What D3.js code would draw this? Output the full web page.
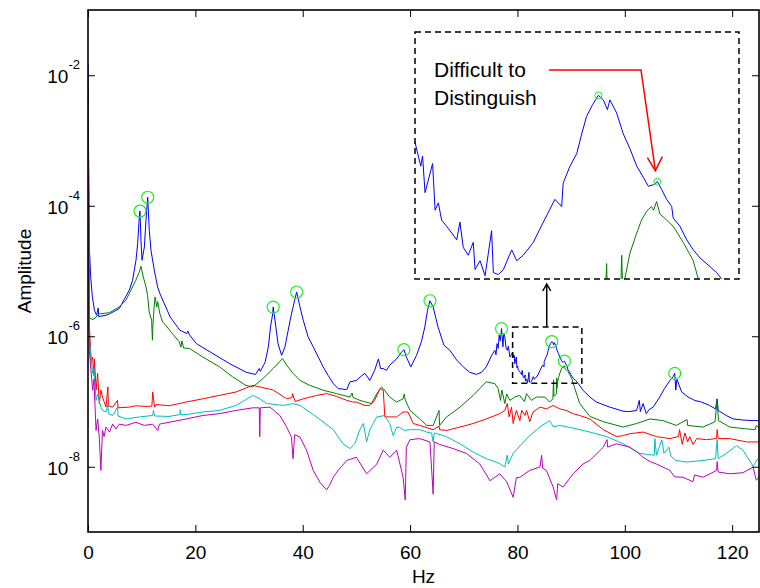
<!DOCTYPE html>
<html><head><meta charset="utf-8">
<script src="https://cdn.jsdelivr.net/npm/d3@7"></script>
<style>body{margin:0;background:#fff}svg{display:block}text{font-family:"Liberation Sans",Arial,sans-serif}</style>
</head><body><svg id="c" width="760" height="588"></svg>
<script>
const freqTicks=[0,20,40,60,80,100,120];
const ampTicks=[1e-8,1e-6,1e-4,1e-2];
const ampTickExp=["-8","-6","-4","-2"];
const blue=[[0,1.5e-2],[0.15,2e-4],[0.25,2.3e-5],[0.5,8.3e-6],[0.8,4.1e-6],[1.2,2.5e-6],[1.6,2.1e-6],[1.9,2.7e-6],[2.0,2.0e-6],[3.35,2.1e-6],[4.0,2.2e-6],[5.83,2.66e-6],[7.7,5.1e-6],[8.3,7.2e-6],[8.94,1.46e-5],[9.25,2.64e-5],[9.56,6.75e-5],[9.68,8.3e-5],[9.87,2.97e-5],[10.06,1.46e-5],[10.5,2.33e-5],[10.8,6.0e-5],[11.12,1.35e-4],[11.42,4.2e-5],[11.73,2.08e-5],[12.35,1.03e-5],[12.97,5.7e-6],[13.4,4.5e-6],[15.3,1.98e-6],[17.1,1.24e-6],[18.4,1.1e-6],[18.6,1.2e-6],[18.9,1.05e-6],[20.2,7.7e-7],[23.3,5.4e-7],[26.4,3.8e-7],[29.5,2.8e-7],[31.2,2.6e-7],[31.9,3.2e-7],[32.1,2.9e-7],[33.0,4.0e-7],[33.6,6.9e-7],[34.0,1.39e-6],[34.4,2.2e-6],[34.5,2.8e-6],[35.0,1.39e-6],[35.4,7.7e-7],[36.07,5.1e-7],[36.7,6.9e-7],[37.3,1.24e-6],[37.9,2.2e-6],[38.5,3.56e-6],[38.86,4.77e-6],[39.5,2.8e-6],[40.1,1.76e-6],[41.0,9.8e-7],[41.95,6.9e-7],[42.9,4.8e-7],[43.8,3.4e-7],[44.75,2.5e-7],[45.7,1.88e-7],[46.6,1.58e-7],[48.2,1.52e-7],[48.8,2.0e-7],[50.0,2.1e-7],[51.0,2.5e-7],[51.6,2.7e-7],[52.5,2.1e-7],[53.4,3.0e-7],[54.1,4.5e-7],[54.5,3.2e-7],[55.0,3.2e-7],[55.6,3.0e-7],[56.2,3.6e-7],[57.5,4.5e-7],[58.4,5.7e-7],[58.85,6.25e-7],[59.3,4.8e-7],[60.15,3.4e-7],[61.2,5.1e-7],[62.1,8.2e-7],[62.75,1.39e-6],[63.25,2.5e-6],[63.7,3.5e-6],[64.3,2.8e-6],[65.2,1.39e-6],[66.3,7.3e-7],[67.4,6.1e-7],[68.7,4.3e-7],[69.9,3.4e-7],[71.1,2.8e-7],[72.4,2.6e-7],[73.3,2.8e-7],[74.2,3.4e-7],[75.2,5.1e-7],[75.8,6.1e-7],[76.0,5.2e-7],[76.2,7.7e-7],[76.4,6.5e-7],[76.6,1.04e-6],[76.8,8.5e-7],[77.04,1.31e-6],[77.3,6.9e-7],[77.45,1.1e-6],[77.65,9.8e-7],[77.9,6.5e-7],[78.1,6.1e-7],[78.3,7.0e-7],[78.6,4.8e-7],[79.1,5.7e-7],[79.23,5.1e-7],[79.33,4.7e-7],[79.4,5.1e-7],[79.5,3.8e-7],[79.63,4.2e-7],[79.8,4.8e-7],[79.9,3.3e-7],[80.03,3.5e-7],[80.16,3.05e-7],[80.36,2.9e-7],[80.56,2.75e-7],[80.76,2.6e-7],[80.89,3.0e-7],[81.02,2.45e-7],[81.22,2.3e-7],[81.42,2.55e-7],[81.49,2.05e-7],[81.69,2.2e-7],[81.89,1.95e-7],[82.15,2.8e-7],[82.22,2.0e-7],[82.42,1.97e-7],[82.62,2.05e-7],[82.95,2.4e-7],[83.15,2.2e-7],[83.41,2.3e-7],[83.81,2.55e-7],[84.21,3.0e-7],[84.67,3.6e-7],[84.94,3.4e-7],[85.0,4.1e-7],[85.27,4.7e-7],[85.54,5.2e-7],[85.74,6.1e-7],[85.93,7.0e-7],[86.17,7.7e-7],[86.4,8.3e-7],[86.6,8.0e-7],[86.76,7.4e-7],[86.86,8.0e-7],[87.13,7.2e-7],[87.39,6.1e-7],[87.66,5.4e-7],[87.93,4.7e-7],[88.19,4.3e-7],[88.39,4.0e-7],[88.59,4.05e-7],[88.75,4.15e-7],[88.92,3.9e-7],[89.12,3.6e-7],[89.32,3.4e-7],[89.38,3.1e-7],[89.65,2.9e-7],[89.92,2.6e-7],[90.18,2.4e-7],[90.45,2.25e-7],[90.84,2.1e-7],[91.11,2.0e-7],[91.31,1.9e-7],[92.2,1.49e-7],[93.5,1.17e-7],[94.7,9.8e-8],[97.2,8.2e-8],[99.7,7.1e-8],[100.9,7.0e-8],[102.2,7.3e-8],[102.7,1.04e-7],[102.9,7.0e-8],[103.4,9.3e-8],[104.0,6.5e-8],[104.5,7.5e-8],[105.3,8.2e-8],[106.5,1.17e-7],[107.4,1.58e-7],[108.4,2.1e-7],[109.0,2.4e-7],[109.3,2.7e-7],[109.5,1.5e-7],[109.7,2.2e-7],[110.6,1.4e-7],[111.8,1.17e-7],[113.0,1.04e-7],[114.3,9.8e-8],[115.8,8.7e-8],[116.9,7.7e-8],[117.2,1.1e-7],[117.4,7.3e-8],[118.9,6.1e-8],[120.2,5.4e-8],[122.0,5.2e-8],[123.9,5.1e-8],[125,5.1e-8]];
const green=[[0,7e-3],[0.12,3e-4],[0.25,1.9e-6],[1.0,1.8e-6],[2.1,2.2e-6],[4.0,2.3e-6],[5.8,2.8e-6],[7.1,3.6e-6],[8.0,5.1e-6],[8.9,7.2e-6],[9.56,9.7e-6],[9.87,1.18e-5],[10.3,8.1e-6],[10.8,5.7e-6],[11.1,4.25e-6],[11.4,2.36e-6],[11.85,1.76e-6],[12.0,8.7e-7],[12.1,1.5e-6],[12.35,3.0e-6],[12.5,4.0e-6],[12.8,2.8e-6],[12.97,3.4e-6],[13.4,2.2e-6],[13.9,1.66e-6],[14.5,1.47e-6],[15.5,1.15e-6],[17.0,8.2e-7],[17.3,6.8e-7],[17.5,8.5e-7],[17.8,6.6e-7],[18.9,6.5e-7],[21.4,4.8e-7],[24.5,3.4e-7],[26.9,2.4e-7],[29.4,1.77e-7],[30.7,1.67e-7],[32.6,2.25e-7],[34.5,3.2e-7],[36.25,4.55e-7],[37.0,3.6e-7],[38.2,2.7e-7],[39.5,2.1e-7],[41.3,1.77e-7],[43.8,1.49e-7],[46.3,1.32e-7],[48.8,1.17e-7],[49.2,1.35e-7],[49.4,1.15e-7],[50.65,1.04e-7],[52.8,9.3e-8],[53.8,1.32e-7],[54.7,1.67e-7],[55.0,1.58e-7],[56.2,1.17e-7],[57.5,9.8e-8],[58.7,1.1e-7],[58.9,1.3e-7],[59.1,1.05e-7],[60.0,7.3e-8],[61.8,5.4e-8],[63.1,4.3e-8],[64.3,4.3e-8],[65.4,7.3e-8],[65.5,4.3e-8],[66.8,5.8e-8],[69.3,8.2e-8],[71.75,1.24e-7],[74.2,2.0e-7],[75.8,1.88e-7],[76.4,1.58e-7],[76.85,1.04e-7],[77.1,1.5e-7],[77.65,9.3e-8],[78.0,1.3e-7],[78.6,1.04e-7],[79.5,1.17e-7],[80.4,1.24e-7],[81.3,1.0e-7],[81.7,1.32e-7],[82.6,1.04e-7],[83.55,1.17e-7],[85.1,1.17e-7],[86.0,9.8e-8],[86.6,1.1e-7],[86.73,2.15e-7],[86.8,1.2e-7],[87.25,1.3e-7],[87.33,2.3e-7],[87.38,1.6e-7],[87.45,1.9e-7],[87.66,2.34e-7],[87.93,2.75e-7],[88.12,3.05e-7],[88.32,3.27e-7],[88.52,3.4e-7],[88.6,3.3e-7],[88.72,3.54e-7],[88.85,3.2e-7],[89.12,3.05e-7],[89.38,2.9e-7],[89.78,2.55e-7],[90.18,2.2e-7],[90.38,1.9e-7],[91.6,9.3e-8],[93.5,5.9e-8],[96.0,4.9e-8],[99.7,4.06e-8],[102.2,4.6e-8],[104.7,5.4e-8],[107.1,5.1e-8],[109.6,4.3e-8],[111.6,5.3e-8],[111.7,4.3e-8],[114.6,4.06e-8],[116.8,4.9e-8],[117.2,1.04e-7],[117.45,5.1e-8],[119.55,4.06e-8],[122.7,3.8e-8],[124.3,3.7e-8],[124.5,4.3e-8],[125,3.9e-8]];
const red=[[0,5.5e-3],[0.12,2e-4],[0.24,1.57e-6],[0.6,4e-7],[0.87,4.8e-7],[1.1,2.5e-7],[1.2,4.5e-7],[1.5,1.5e-7],[1.8,2.7e-7],[2.1,9.3e-8],[2.4,1.5e-7],[2.7,1.17e-7],[3.35,8.2e-8],[3.7,1.67e-7],[3.8,8.5e-8],[4.6,8.2e-8],[5.5,1.04e-7],[5.6,8.0e-8],[7.7,8.2e-8],[8.9,8.6e-8],[10.8,8.4e-8],[11.9,8.5e-8],[12.05,1.4e-7],[12.4,8.2e-8],[12.7,9.0e-8],[15.1,8.6e-8],[18.25,9.8e-8],[21.4,1.1e-7],[24.45,1.24e-7],[27.6,1.4e-7],[30.7,1.77e-7],[32.0,1.67e-7],[34.5,1.5e-7],[37.0,1.1e-7],[38.0,1.15e-7],[38.1,1.32e-7],[38.6,1.0e-7],[40.1,1.1e-7],[42.6,1.24e-7],[44.45,1.32e-7],[46.3,1.2e-7],[48.2,1.04e-7],[49.4,9.8e-8],[50.0,9.8e-8],[51.6,8.7e-8],[52.5,8.7e-8],[53.4,1.04e-7],[54.4,1.58e-7],[55.0,1.5e-7],[55.3,5.8e-8],[57.5,5.8e-8],[58.7,6.9e-8],[59.6,6.9e-8],[60.6,4.6e-8],[61.8,4.3e-8],[64.3,3.7e-8],[65.4,4.2e-8],[65.5,3.7e-8],[66.8,3.6e-8],[69.3,4.06e-8],[71.75,4.6e-8],[74.2,5.4e-8],[76.7,6.5e-8],[77.65,7.3e-8],[78.1,9.3e-8],[78.45,5.8e-8],[78.9,8.2e-8],[79.2,4.6e-8],[79.8,7.3e-8],[80.45,5.1e-8],[80.8,7.3e-8],[81.4,6.1e-8],[81.7,7.3e-8],[82.3,4.9e-8],[82.9,6.9e-8],[84.2,8.2e-8],[85.4,7.7e-8],[86.65,8.7e-8],[87.9,7.7e-8],[89.1,7.3e-8],[90.4,6.5e-8],[91.6,6.1e-8],[93.5,5.4e-8],[96.0,3.7e-8],[98.45,2.9e-8],[99.7,3.0e-8],[100.9,3.2e-8],[103.4,3.4e-8],[105.9,2.9e-8],[108.4,2.7e-8],[110.0,2.9e-8],[110.2,3.7e-8],[110.7,2.2e-8],[111.2,3.3e-8],[111.7,2.4e-8],[112.1,2.9e-8],[112.7,2.2e-8],[113.4,2.7e-8],[115.2,2.6e-8],[117.1,2.7e-8],[117.2,3.7e-8],[117.4,2.7e-8],[119.55,2.7e-8],[122.7,2.4e-8],[125,2.4e-8]];
const cyan=[[0,3.5e-3],[0.12,1e-4],[0.24,8.7e-7],[0.87,2.7e-7],[1.1,3.2e-7],[1.5,1.04e-7],[1.8,1.3e-7],[2.4,8.2e-8],[2.7,7.3e-8],[3.35,6.9e-8],[3.7,9.0e-8],[3.8,6.5e-8],[4.6,6.1e-8],[5.5,8.2e-8],[5.6,6.0e-8],[7.1,5.4e-8],[9.56,5.8e-8],[12.05,6.1e-8],[12.2,7.3e-8],[12.4,6.0e-8],[15.1,5.9e-8],[17.1,6.3e-8],[17.2,7.5e-8],[17.3,6.3e-8],[18.25,6.3e-8],[21.4,6.9e-8],[24.45,7.3e-8],[27.6,8.7e-8],[30.7,1.24e-7],[32.0,1.1e-7],[33.3,9.3e-8],[36.4,8.7e-8],[38.2,9.3e-8],[39.5,8.7e-8],[42.6,5.8e-8],[45.7,3.7e-8],[47.5,2.25e-8],[48.8,1.9e-8],[49.7,2.25e-8],[50.65,3.7e-8],[51.3,4.6e-8],[51.9,2.4e-8],[52.5,3.7e-8],[53.8,5.8e-8],[55.3,6.1e-8],[56.2,4.6e-8],[56.85,3.0e-8],[57.5,4.06e-8],[58.1,4.0e-8],[58.9,3.6e-8],[60.0,3.7e-8],[61.8,3.7e-8],[63.1,3.4e-8],[64.0,3.3e-8],[64.3,2.4e-8],[64.5,3.3e-8],[66.8,2.9e-8],[69.3,2.25e-8],[71.75,1.68e-8],[74.2,1.33e-8],[76.7,1.12e-8],[77.65,9.9e-9],[78.1,1.5e-8],[78.3,1.1e-8],[79.2,1.6e-8],[81.7,2.7e-8],[84.2,4.1e-8],[86.0,5.1e-8],[86.65,4.1e-8],[87.9,4.3e-8],[90.4,3.9e-8],[93.5,3.4e-8],[96.6,2.9e-8],[99.7,2.25e-8],[102.8,1.6e-8],[105.5,1.5e-8],[105.6,2.7e-8],[105.9,1.5e-8],[106.9,2.6e-8],[107.3,1.6e-8],[108.2,2.0e-8],[108.6,1.45e-8],[109.5,1.25e-8],[111.5,1.18e-8],[114.6,1.25e-8],[116.9,1.33e-8],[117.2,2.6e-8],[117.4,1.33e-8],[118.9,1.6e-8],[120.8,2.1e-8],[122.0,1.8e-8],[123.9,1.02e-8],[124.8,1.33e-8]];
const magenta=[[0,2.2e-3],[0.12,1e-4],[0.24,6.1e-7],[0.87,1.49e-7],[1.1,2.2e-7],[1.5,3.6e-8],[1.8,5.4e-8],[2.1,2.85e-8],[2.4,8.8e-9],[2.7,3.6e-8],[3.0,2.9e-8],[3.35,4.06e-8],[4.0,3.4e-8],[4.6,4.5e-8],[5.2,3.8e-8],[5.8,4.5e-8],[7.1,4.3e-8],[8.9,4.8e-8],[10.5,4.3e-8],[12.05,4.5e-8],[13.0,3.6e-8],[13.3,4.5e-8],[15.1,4.8e-8],[18.25,5.4e-8],[21.4,6.1e-8],[24.45,6.5e-8],[27.6,7.3e-8],[30.7,8.0e-8],[31.9,8.0e-8],[32.0,2.9e-8],[32.1,8.0e-8],[33.9,8.2e-8],[35.75,6.1e-8],[37.0,4.06e-8],[37.9,2.85e-8],[38.2,1.33e-8],[38.5,3.1e-8],[39.5,2.85e-8],[40.7,1.8e-8],[41.95,8.8e-9],[43.2,5.8e-9],[44.45,4.4e-9],[45.0,5.2e-9],[45.7,6.9e-9],[46.6,8.8e-9],[48.2,1.25e-8],[50.0,1.4e-8],[51.9,7.8e-9],[53.8,1.1e-8],[55.0,1.8e-8],[56.2,1.4e-8],[57.5,1.8e-8],[58.7,6.9e-9],[59.1,3.1e-9],[59.3,2.0e-8],[60.0,2.6e-8],[61.8,2.7e-8],[63.7,2.4e-8],[64.3,3.8e-9],[64.5,2.4e-8],[65.5,2.2e-8],[68.0,1.9e-8],[70.5,1.6e-8],[73.0,1.1e-8],[74.9,6.1e-9],[76.7,7.8e-9],[78.0,5.9e-9],[79.2,3.4e-9],[79.8,6.8e-9],[80.45,6.9e-9],[82.3,8.8e-9],[84.2,9.9e-9],[84.5,1.5e-8],[84.7,9.5e-9],[85.4,8.8e-9],[86.65,4.9e-9],[87.3,3.1e-9],[87.5,5.5e-9],[88.5,4.9e-9],[90.4,7.8e-9],[92.2,1.1e-8],[93.5,1.25e-8],[96.0,2.0e-8],[96.7,2.6e-8],[96.8,2.0e-8],[98.45,2.25e-8],[100.9,2.0e-8],[102.2,1.7e-8],[103.4,1.4e-8],[104.7,1.2e-8],[105.9,1.1e-8],[108.4,8.8e-9],[109.3,7.0e-9],[110.85,6.9e-9],[112.7,5.9e-9],[113.0,7.5e-9],[114.6,6.9e-9],[117.1,8.8e-9],[117.2,1.2e-8],[117.4,8.3e-9],[119.55,7.8e-9],[122.0,8.1e-9],[123.9,9.9e-9],[124.5,6.2e-9],[125,7e-9]];
const peaks=[[9.68,8.3e-5],[11.12,1.35e-4],[34.5,2.8e-6],[38.86,4.77e-6],[58.85,6.25e-7],[63.7,3.5e-6],[77.04,1.31e-6],[86.4,8.3e-7],[88.75,4.15e-7],[109.3,2.7e-7]];
const insetPeaks=[[86.4,8.3e-7],[88.75,4.15e-7]];
const zoomFreq=[79.1,92];
const zoomAmp=[1.9e-7,1.38e-6];
const seriesList=[{d:blue,c:"#0000ff"},{d:green,c:"#008000"},{d:red,c:"#ff0000"},{d:cyan,c:"#00bfbf"},{d:magenta,c:"#bf00bf"}];

const svg=d3.select("#c");
const L=88,R=759,T=10,B=532;
const x=d3.scaleLinear().domain([0,125]).range([L,R]);
const y=d3.scaleLog().domain([1e-9,1e-1]).range([B,T]);
const defs=svg.append("defs");
defs.append("clipPath").attr("id","cm").append("rect").attr("x",L).attr("y",T).attr("width",R-L).attr("height",B-T);
const IL=415,IR=739,IT=32,IB=279;
defs.append("clipPath").attr("id","ci").append("rect").attr("x",IL).attr("y",IT).attr("width",IR-IL).attr("height",IB-IT);

const line=d3.line().x(d=>x(d[0])).y(d=>y(d[1]));
const gm=svg.append("g").attr("clip-path","url(#cm)");
seriesList.forEach(s=>gm.append("path").attr("d",line(s.d)).attr("fill","none").attr("stroke",s.c).attr("stroke-width",1));
gm.selectAll("circle.pk").data(peaks).enter().append("circle").attr("cx",d=>x(d[0])).attr("cy",d=>y(d[1])).attr("r",6).attr("fill","none").attr("stroke","#22ee22").attr("stroke-width",1.2);

// frame
const axg=svg.append("g");
axg.append("rect").attr("x",L).attr("y",T).attr("width",R-L).attr("height",B-T).attr("fill","none").attr("stroke","#000").attr("stroke-width",1.6);
axg.append("g").attr("transform",`translate(0,${B})`).call(d3.axisBottom(x).tickValues(freqTicks).tickSizeInner(-7).tickSizeOuter(0).tickPadding(14)).call(g=>{g.select(".domain").remove();g.selectAll("text").attr("font-size",19).attr("fill","#000").attr("font-family","Liberation Sans, Arial, sans-serif");g.selectAll("line").attr("stroke","#000");});
axg.append("g").attr("transform",`translate(0,${T})`).call(d3.axisTop(x).tickValues(freqTicks).tickSizeInner(-7).tickSizeOuter(0).tickFormat("")).call(g=>{g.select(".domain").remove();g.selectAll("line").attr("stroke","#000");});
axg.append("g").attr("transform",`translate(${L},0)`).call(d3.axisLeft(y).tickValues(ampTicks).tickSizeInner(-7).tickSizeOuter(0).tickFormat("")).call(g=>{g.select(".domain").remove();g.selectAll("line").attr("stroke","#000");});
axg.append("g").attr("transform",`translate(${R},0)`).call(d3.axisRight(y).tickValues(ampTicks).tickSizeInner(-7).tickSizeOuter(0).tickFormat("")).call(g=>{g.select(".domain").remove();g.selectAll("line").attr("stroke","#000");});
ampTicks.forEach((v,i)=>{
  const t=svg.append("text").attr("x",L-8).attr("y",y(v)+8).attr("text-anchor","end").attr("font-size",19).attr("fill","#000");
  t.append("tspan").text("10");
  t.append("tspan").attr("font-size",13).attr("dy",-14).text(ampTickExp[i]);
});
svg.append("text").attr("x",(L+R)/2).attr("y",583).attr("text-anchor","middle").attr("font-size",19).text("Hz");
svg.append("text").attr("transform","translate(31,271) rotate(-90)").attr("text-anchor","middle").attr("font-size",19).text("Amplitude");

// zoom box in main
const zx0=x(zoomFreq[0]),zx1=x(zoomFreq[1]),zy0=y(zoomAmp[1]),zy1=y(zoomAmp[0]);
svg.append("rect").attr("x",zx0).attr("y",zy0).attr("width",zx1-zx0).attr("height",zy1-zy0).attr("fill","none").attr("stroke","#000").attr("stroke-width",1.5).attr("stroke-dasharray","6,4");
// inset
const xi=d3.scaleLinear().domain(zoomFreq).range([IL,IR]);
const yi=d3.scaleLog().domain(zoomAmp).range([IB,IT]);
svg.append("rect").attr("x",IL).attr("y",IT).attr("width",IR-IL).attr("height",IB-IT).attr("fill","#fff");
const gi=svg.append("g").attr("clip-path","url(#ci)");
const lineI=d3.line().x(d=>xi(d[0])).y(d=>yi(d[1]));
[{d:blue,c:"#0000ff"},{d:green,c:"#008000"}].forEach(s=>gi.append("path").attr("d",lineI(s.d)).attr("fill","none").attr("stroke",s.c).attr("stroke-width",1));
gi.selectAll("circle").data(insetPeaks).enter().append("circle").attr("cx",d=>xi(d[0])).attr("cy",d=>yi(d[1])).attr("r",3.5).attr("fill","none").attr("stroke","#22ee22").attr("stroke-width",1);
svg.append("rect").attr("x",IL).attr("y",IT).attr("width",IR-IL).attr("height",IB-IT).attr("fill","none").attr("stroke","#000").attr("stroke-width",1.5).attr("stroke-dasharray","6,4");
// black arrow
const ax=(zx0+zx1)/2-0.5;
svg.append("path").attr("d",`M${ax},${zy0} L${ax},${IB+5} M${ax-4},${IB+12} L${ax},${IB+5} L${ax+4},${IB+12}`).attr("fill","none").attr("stroke","#000").attr("stroke-width",1.5);
// annotation
const tf="Lato, 'Open Sans', sans-serif";
svg.append("text").attr("x",434).attr("y",77).attr("font-size",21).attr("font-family",tf).text("Difficult to");
svg.append("text").attr("x",434).attr("y",105).attr("font-size",21).attr("font-family",tf).text("Distinguish");
const tip=[xi(88.75)-2,yi(4.15e-7)-11];
svg.append("path").attr("d",`M549,70 L641,70 L${tip[0]},${tip[1]}`).attr("fill","none").attr("stroke","#ff0000").attr("stroke-width",1.5);
svg.append("path").attr("d",`M${tip[0]-8},${tip[1]-13} L${tip[0]},${tip[1]} L${tip[0]+7},${tip[1]-14}`).attr("fill","none").attr("stroke","#ff0000").attr("stroke-width",1.5);
</script></body></html>
